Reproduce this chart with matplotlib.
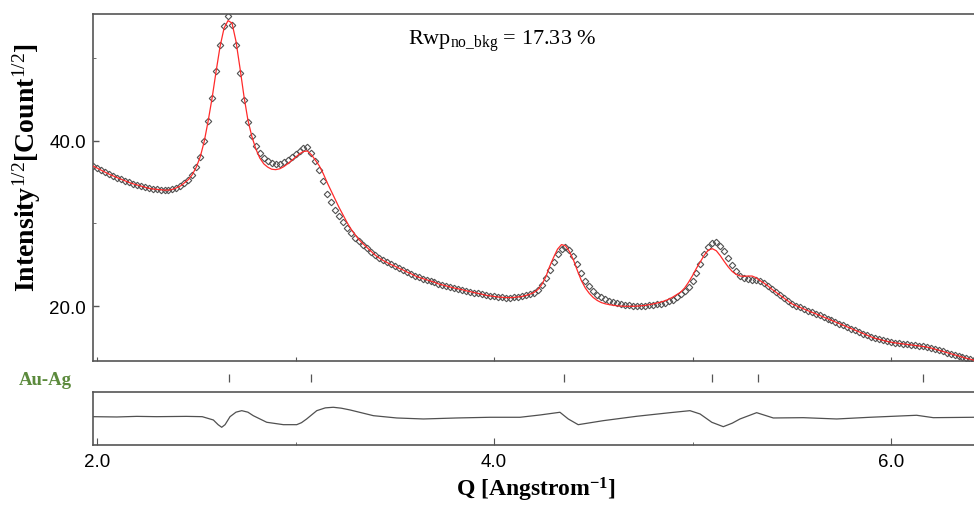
import numpy as np
import matplotlib
matplotlib.use('Agg')
import matplotlib.pyplot as plt
from matplotlib.ticker import MultipleLocator, FixedLocator

# 数据
q_start = 1.98
q_step = 0.02

# 观测值 sqrt(I), Q = 1.98 ... 6.42 步长 0.02
i_obs = [
    36.93, 36.70, 36.44, 36.20, 35.96, 35.75, 35.55, 35.36, 35.16, 34.96,
    34.80, 34.67, 34.53, 34.39, 34.25, 34.17, 34.12, 34.07, 34.03, 34.03,
    34.12, 34.30, 34.52, 34.90, 35.30, 35.90, 36.80, 38.05, 39.90, 42.40,
    45.20, 48.40, 51.50, 53.90, 55.00, 54.00, 51.60, 48.20, 44.90, 42.30,
    40.60, 39.40, 38.45, 37.90, 37.50, 37.25, 37.20, 37.20, 37.40, 37.70,
    38.00, 38.35, 38.75, 39.15, 39.20, 38.55, 37.60, 36.40, 35.10, 33.60,
    32.60, 31.60, 30.85, 30.15, 29.45, 28.85, 28.30, 27.85, 27.40, 27.00,
    26.60, 26.20, 25.85, 25.55, 25.30, 25.05, 24.85, 24.60, 24.40, 24.15,
    23.95, 23.70, 23.50, 23.35, 23.20, 23.05, 22.90, 22.70, 22.58, 22.45,
    22.32, 22.20, 22.10, 22.00, 21.87, 21.77, 21.65, 21.55, 21.45, 21.32,
    21.25, 21.18, 21.12, 21.08, 21.05, 21.05, 21.07, 21.12, 21.18, 21.30,
    21.45, 21.65, 22.00, 22.60, 23.40, 24.40, 25.40, 26.30, 26.95, 27.20,
    26.85, 26.10, 25.10, 24.00, 23.10, 22.40, 21.85, 21.40, 21.10, 20.85,
    20.65, 20.50, 20.38, 20.28, 20.20, 20.12, 20.08, 20.05, 20.05, 20.08,
    20.12, 20.18, 20.25, 20.32, 20.45, 20.60, 20.78, 21.10, 21.45, 21.80,
    22.30, 23.10, 24.00, 25.10, 26.30, 27.20, 27.65, 27.75, 27.30, 26.65,
    25.80, 24.95, 24.20, 23.70, 23.42, 23.32, 23.22, 23.15, 23.00, 22.85,
    22.45, 22.05, 21.70, 21.35, 21.00, 20.65, 20.30, 20.08, 19.88, 19.68,
    19.48, 19.28, 19.10, 18.90, 18.70, 18.50, 18.30, 18.10, 17.90, 17.70,
    17.50, 17.30, 17.10, 16.90, 16.70, 16.50, 16.30, 16.13, 16.00, 15.88,
    15.76, 15.66, 15.58, 15.52, 15.46, 15.40, 15.34, 15.28, 15.22, 15.15,
    15.07, 14.97, 14.83, 14.70, 14.55, 14.40, 14.26, 14.12, 13.98, 13.84,
    13.72, 13.60, 13.48,
]

# 计算值 (红线), 同一 Q 网格
i_calc = [
    36.93, 36.70, 36.44, 36.20, 35.96, 35.75, 35.55, 35.36, 35.16, 34.96,
    34.80, 34.67, 34.53, 34.39, 34.25, 34.17, 34.12, 34.07, 34.03, 34.03,
    34.12, 34.30, 34.52, 34.90, 35.30, 35.90, 36.80, 38.05, 39.90, 42.40,
    45.20, 48.40, 51.40, 53.60, 54.50, 54.20, 52.00, 48.80, 45.40, 42.50,
    40.50, 39.00, 37.90, 37.20, 36.80, 36.55, 36.50, 36.60, 36.85, 37.20,
    37.60, 38.00, 38.40, 38.70, 38.75, 38.30, 37.65, 36.95, 36.00, 34.90,
    33.90, 32.90, 31.90, 31.00, 30.10, 29.30, 28.65, 28.05, 27.55, 27.10,
    26.65, 26.20, 25.85, 25.55, 25.30, 25.05, 24.85, 24.60, 24.40, 24.15,
    23.95, 23.70, 23.50, 23.35, 23.20, 23.05, 22.90, 22.70, 22.58, 22.45,
    22.32, 22.20, 22.10, 22.00, 21.87, 21.77, 21.65, 21.55, 21.45, 21.32,
    21.25, 21.18, 21.12, 21.08, 21.05, 21.05, 21.07, 21.12, 21.18, 21.30,
    21.45, 21.65, 22.00, 22.60, 23.50, 24.80, 25.90, 26.90, 27.45, 27.30,
    26.60, 25.60, 24.30, 23.10, 22.20, 21.55, 21.05, 20.70, 20.45, 20.30,
    20.20, 20.12, 20.06, 20.02, 20.00, 20.00, 20.00, 20.02, 20.06, 20.10,
    20.18, 20.27, 20.38, 20.50, 20.65, 20.85, 21.10, 21.40, 21.70, 22.20,
    22.90, 23.70, 24.60, 25.40, 26.20, 26.80, 26.95, 26.70, 26.10, 25.40,
    24.75, 24.20, 23.85, 23.65, 23.62, 23.65, 23.65, 23.45, 23.10, 22.80,
    22.45, 22.05, 21.70, 21.35, 21.00, 20.65, 20.30, 20.08, 19.88, 19.68,
    19.48, 19.28, 19.10, 18.90, 18.70, 18.50, 18.30, 18.10, 17.90, 17.70,
    17.50, 17.30, 17.10, 16.90, 16.70, 16.50, 16.30, 16.13, 16.00, 15.88,
    15.76, 15.66, 15.58, 15.52, 15.46, 15.40, 15.34, 15.28, 15.22, 15.15,
    15.07, 14.97, 14.83, 14.70, 14.55, 14.40, 14.26, 14.12, 13.98, 13.84,
    13.72, 13.60, 13.48,
]

# 差值曲线 (任意单位)
q_diff = [1.978, 2.10, 2.20, 2.30, 2.45, 2.53, 2.586, 2.61, 2.628, 2.645,
          2.67, 2.70, 2.729, 2.76, 2.787, 2.855, 2.939, 3.006, 3.03, 3.056,
          3.107, 3.15, 3.19, 3.23, 3.275, 3.392, 3.51, 3.644, 3.812, 3.98,
          4.131, 4.232, 4.332, 4.374, 4.424, 4.55, 4.719, 4.887, 4.987, 5.038,
          5.097, 5.155, 5.20, 5.239, 5.323, 5.407, 5.558, 5.726, 5.894, 6.129,
          6.213, 6.418]
r_diff = [0.0, -0.3, 0.3, 0.0, 0.3, 0.0, -3.3, -8.0, -10.6, -8.0,
          0.0, 4.5, 6.0, 4.5, 1.0, -5.6, -8.0, -8.0, -6.0, -2.3,
          6.0, 8.8, 9.4, 8.5, 6.7, 1.0, -1.3, -2.3, -1.3, -0.6,
          -0.6, 1.7, 4.4, -2.3, -8.0, -4.0, 0.4, 4.0, 6.0, 2.7,
          -5.6, -10.0, -6.5, -2.3, 4.0, -1.3, -1.0, -2.3, -0.6, 1.4,
          -1.0, -0.6]

# Au-Ag 衍射峰位置
peak_q = [2.665, 3.076, 4.353, 5.10, 5.33, 6.16]

q_obs = q_start + q_step * np.arange(len(i_obs))

plt.rcParams['mathtext.fontset'] = 'custom'
plt.rcParams['mathtext.rm'] = 'Liberation Serif'
plt.rcParams['mathtext.it'] = 'Liberation Serif:italic'
plt.rcParams['mathtext.bf'] = 'Liberation Serif:bold'

spine_c = '#555555'
xlim = (1.9783, 6.418)

fig = plt.figure(figsize=(9.74, 5.06), dpi=100)

# 主图
ax = fig.add_axes([0.0952, 0.2846, 0.9048, 0.6858])
ax.plot(q_obs, i_obs, ls='none', marker='D', ms=3.3, mfc='none',
        mec='#505050', mew=0.8, zorder=2)
ax.plot(q_obs, i_calc, color='#ff2a2a', lw=0.9, zorder=3)
ax.set_xlim(*xlim)
ax.set_ylim(13.39, 55.3)
ax.spines['right'].set_visible(False)
for s in ['left', 'top', 'bottom']:
    ax.spines[s].set_color(spine_c)
    ax.spines[s].set_linewidth(1.2)
ax.yaxis.set_major_locator(FixedLocator([20, 40]))
ax.yaxis.set_minor_locator(FixedLocator([30, 50]))
ax.set_yticklabels(['20.0', '40.0'])
ax.xaxis.set_major_locator(MultipleLocator(1.0))
ax.tick_params(axis='x', which='major', direction='in', length=3, color=spine_c,
               labelbottom=False)
ax.tick_params(axis='y', which='major', direction='in', length=4, width=1,
               color=spine_c, labelsize=13.5, pad=5)
ax.tick_params(axis='y', which='minor', direction='in', length=2.5, color=spine_c)
for t in ax.get_yticklabels():
    t.set_fontfamily('Liberation Sans')

# 峰位标记
axp = fig.add_axes([0.0952, 1 - 386 / 506, 0.9048, 14 / 506])
axp.vlines(peak_q, 0.2, 0.8, color=spine_c, lw=0.9)
axp.set_xlim(*xlim)
axp.set_ylim(0, 1)
axp.axis('off')

# 差值图
axr = fig.add_axes([0.0952, 0.1192, 0.9048, 0.1036])
axr.plot(q_diff, r_diff, color='#505050', lw=0.9)
axr.set_xlim(*xlim)
axr.set_ylim(-28, 24.4)
axr.spines['right'].set_visible(False)
for s in ['left', 'top', 'bottom']:
    axr.spines[s].set_color(spine_c)
    axr.spines[s].set_linewidth(1.2)
axr.set_yticks([])
axr.xaxis.set_major_locator(FixedLocator([2, 4, 6]))
axr.xaxis.set_minor_locator(FixedLocator([3, 5]))
axr.set_xticklabels(['2.0', '4.0', '6.0'])
axr.tick_params(axis='x', which='major', direction='in', length=5, color=spine_c,
                labelsize=13.5, pad=6)
axr.tick_params(axis='x', which='minor', direction='in', length=2.5, color=spine_c)
for t in axr.get_xticklabels():
    t.set_fontfamily('Liberation Sans')

# 文字
fig.text(0.5154, 0.918, r'Rwp$_{\mathrm{no\_bkg}}$ = 17.33 %', ha='center', va='center',
         fontsize=16, family='Liberation Serif')
fig.text(0.0195, 0.249, 'Au-Ag', ha='left', va='center', fontsize=13.5,
         family='Liberation Serif', weight='bold', color='#5b8a3c')
fig.text(0.0277, 0.668, r'Intensity$^{1/2}$[Count$^{1/2}$]', rotation=90,
         ha='center', va='center', fontsize=20, family='Liberation Serif',
         weight='bold')
fig.text(0.5503, 0.032, r'Q [Angstrom$^{\mathbf{-1}}$]', ha='center', va='center',
         fontsize=17, family='Liberation Serif', weight='bold')

plt.savefig('out.png', dpi=100)
